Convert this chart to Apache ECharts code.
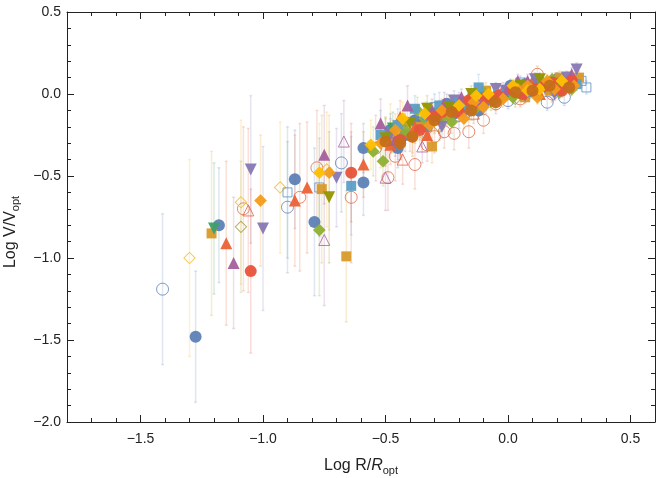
<!DOCTYPE html>
<html>
<head>
<meta charset="utf-8">
<script src="https://cdn.jsdelivr.net/npm/echarts@6/dist/echarts.min.js"></script>
<style>
  html, body { margin: 0; padding: 0; background: #fff; }
  #chart { width: 657px; height: 478px; }
</style>
</head>
<body>
<div id="chart"></div>
<script>
// each point: [log R/Ropt, log V/Vopt, error]
const blueDots = [[-1.275,-1.48,0.4],[-1.18,-0.80,0.35],[-0.87,-0.52,0.3],[-0.79,-0.78,0.45],[-0.59,-0.54,0.2],
  [-0.59,-0.33,0.15],[-0.48,-0.22,0.1],[-0.45,-0.33,0.12],[-0.42,-0.25,0.1],[-0.35,-0.18,0.08],[-0.33,-0.2,0.08],
  [-0.28,-0.14,0.1],[-0.25,-0.06,0.06],[-0.22,-0.12,0.06],[-0.15,-0.06,0.05],[-0.12,-0.1,0.05],[-0.08,-0.03,0.05],
  [-0.02,-0.01,0.04],[0.01,0.05,0.04],[0.04,0.02,0.04],[0.07,0.06,0.04],[0.1,0.03,0.04],[0.13,0.07,0.04],
  [0.16,0.04,0.04],[0.19,0.02,0.05],[0.2,0.09,0.04],[0.22,0.06,0.04],[0.27,0.07,0.04],[-0.38,-0.16,0.08]]
const amberSquares = [[-1.21,-0.85,0.5],[-0.76,-0.58,0.45],[-0.66,-0.99,0.4],[-0.31,-0.32,0.1],[-0.47,-0.26,0.1],
  [-0.42,-0.17,0.08],[-0.36,-0.2,0.08],[-0.25,-0.13,0.06],[-0.18,-0.09,0.06],[-0.12,-0.07,0.05],[-0.09,0.02,0.05],
  [-0.05,-0.02,0.05],[0.03,0.0,0.04],[0.07,-0.02,0.04],[0.11,0.05,0.04],[0.17,0.02,0.04],[0.21,0.1,0.04],
  [0.24,0.08,0.04],[0.29,0.1,0.04]]
const greenDiamonds = [[-0.77,-0.83,0.4],[-0.51,-0.41,0.15],[-0.55,-0.35,0.15],[-0.44,-0.27,0.1],[-0.42,-0.22,0.1],
  [-0.37,-0.1,0.08],[-0.34,-0.15,0.08],[-0.27,-0.15,0.07],[-0.23,-0.17,0.07],[-0.19,-0.08,0.06],[-0.14,-0.1,0.06],
  [-0.1,0.01,0.05],[-0.06,-0.04,0.05],[0.02,-0.02,0.04],[0.05,0.0,0.04],[0.08,0.04,0.04],[0.14,0.07,0.04],
  [0.18,0.09,0.04],[0.21,0.01,0.04],[0.26,0.03,0.04]]
const tealDown = [[-1.2,-0.82,0.4],[-0.47,-0.21,0.1],[-0.3,-0.12,0.07],[-0.22,-0.09,0.06],[-0.1,-0.02,0.05],
  [0.0,0.01,0.04],[0.12,0.04,0.04]]
const redTriangles = [[-1.15,-0.91,0.5],[-0.87,-0.65,0.4],[-0.82,-0.57,0.4],[-0.59,-0.43,0.2],[-0.48,-0.31,0.12],
  [-0.44,-0.14,0.1],[-0.38,-0.2,0.1],[-0.33,-0.25,0.08],[-0.29,-0.12,0.07],[-0.2,-0.07,0.06],[-0.16,-0.02,0.05],
  [-0.11,-0.05,0.05],[-0.03,0.0,0.04],[0.06,0.02,0.04],[0.1,0.08,0.04],[0.13,0.0,0.04],[0.2,0.04,0.04],
  [0.24,0.07,0.04]]
const purpleDown = [[-1.05,-0.46,0.45],[-1.0,-0.82,0.5],[-0.7,-0.51,0.3],[-0.48,-0.25,0.1],[-0.45,-0.3,0.1],
  [-0.32,-0.17,0.08],[-0.27,-0.2,0.07],[-0.22,-0.04,0.06],[-0.17,-0.1,0.06],[-0.09,-0.07,0.05],[-0.05,0.03,0.04],
  [-0.01,0.02,0.04],[0.07,-0.01,0.04],[0.11,0.09,0.04],[0.15,0.04,0.04],[0.19,0.0,0.04],[0.24,0.1,0.04],
  [0.28,0.15,0.04]]
const redRings = [[-1.08,-0.70,0.5],[-0.85,-0.63,0.45],[-0.78,-0.45,0.35],[-0.64,-0.63,0.4],[-0.54,-0.33,0.2],
  [-0.49,-0.51,0.2],[-0.46,-0.38,0.15],[-0.4,-0.25,0.1],[-0.38,-0.43,0.15],[-0.33,-0.31,0.1],[-0.30,-0.26,0.1],
  [-0.26,-0.23,0.1],[-0.22,-0.24,0.1],[-0.16,-0.23,0.1],[-0.10,-0.16,0.08],[-0.05,-0.06,0.06],[0.05,-0.03,0.05],
  [0.12,0.12,0.05],[0.18,0.0,0.05]]
const skySquares = [[-0.64,-0.56,0.3],[-0.52,-0.25,0.15],[-0.45,-0.19,0.1],[-0.38,-0.09,0.08],[-0.33,-0.13,0.08],
  [-0.28,-0.07,0.08],[-0.2,-0.05,0.06],[-0.16,-0.09,0.05],[-0.12,0.04,0.08],[-0.04,0.0,0.05],[0.02,0.02,0.04],
  [0.09,0.01,0.04],[0.14,0.06,0.04],[0.19,0.07,0.04],[0.25,0.05,0.04],[0.28,0.06,0.04]]
const yellowOpenDiamonds = [[-1.30,-1.00,0.6],[-1.09,-0.66,0.5],[-0.93,-0.57,0.4],[-0.74,-0.46,0.35],[-0.48,-0.21,0.15],
  [-0.35,-0.24,0.1],[-0.24,-0.1,0.07],[-0.07,-0.02,0.05],[0.1,0.06,0.05]]
const oliveOpenDiamonds = [[-1.09,-0.81,0.4],[-0.28,-0.2,0.08],[0.03,-0.03,0.05]]
const magentaTriangles = [[-1.12,-1.03,0.4],[-0.75,-0.37,0.3],[-0.52,-0.18,0.15],[-0.46,-0.28,0.1],[-0.41,-0.07,0.12],
  [-0.31,-0.1,0.07],[-0.26,-0.06,0.07],[-0.19,-0.02,0.05],[-0.13,-0.03,0.05],[0.0,0.03,0.04],[0.04,0.08,0.04],
  [0.08,0.08,0.04],[0.18,0.06,0.04],[0.26,0.12,0.04]]
const oliveDown = [[-0.73,-0.63,0.4],[-0.5,-0.27,0.12],[-0.4,-0.18,0.1],[-0.33,-0.09,0.08],[-0.24,-0.08,0.07],
  [-0.15,0.0,0.05],[-0.07,-0.05,0.05],[0.05,0.05,0.04],[0.13,0.09,0.04],[0.2,0.06,0.04]]
const redDots = [[-1.05,-1.08,0.5],[-0.64,-0.48,0.3],[-0.44,-0.28,0.12],[-0.36,-0.22,0.1],[-0.31,-0.14,0.07],
  [-0.27,-0.11,0.07],[-0.2,-0.11,0.06],[-0.16,-0.04,0.06],[-0.09,-0.02,0.05],[-0.04,-0.01,0.05],[0.02,0.03,0.04],
  [0.06,0.0,0.04],[0.11,0.03,0.04],[0.15,0.05,0.04],[0.18,0.07,0.04],[0.22,0.02,0.04],[0.26,0.08,0.04]]
const blueRings = [[-1.41,-1.19,0.46],[-0.90,-0.69,0.4],[-0.68,-0.42,0.3],[-0.2,-0.13,0.08],[0.0,-0.04,0.05],
  [0.16,-0.05,0.05],[0.23,-0.02,0.05]]
const redOpenTriangles = [[-1.06,-0.71,0.5],[-0.43,-0.40,0.15],[-0.14,-0.12,0.06]]
const magentaOpenTriangles = [[-0.75,-0.89,0.4],[-0.67,-0.29,0.25],[-0.50,-0.51,0.2],[-0.35,-0.32,0.1],
  [-0.02,0.02,0.05],[0.2,0.09,0.04]]
const orangeDiamonds = [[-1.01,-0.65,0.4],[-0.73,-0.48,0.35],[-0.52,-0.3,0.15],[-0.46,-0.22,0.1],[-0.39,-0.26,0.1],
  [-0.32,-0.19,0.08],[-0.27,-0.1,0.07],[-0.18,-0.15,0.06],[-0.14,-0.05,0.05],[-0.1,-0.08,0.05],[-0.02,-0.03,0.05],
  [0.04,0.03,0.04],[0.08,0.05,0.04],[0.12,-0.02,0.04],[0.16,0.08,0.04],[0.19,0.03,0.04],[0.27,0.05,0.04]]
const goldDiamonds = [[-0.77,-0.48,0.3],[-0.56,-0.31,0.15],[-0.43,-0.15,0.1],[-0.34,-0.12,0.07],[-0.2,-0.07,0.06],
  [-0.13,-0.01,0.05],[-0.08,0.0,0.05],[0.02,0.05,0.04],[0.08,0.02,0.04],[0.13,0.03,0.04],[0.22,0.08,0.04]]
const openSquares = [[-0.90,-0.60,0.4],[-0.77,-0.57,0.3],[-0.30,-0.08,0.08],[-0.12,-0.06,0.05],[0.05,0.07,0.04],
  [0.3,0.08,0.04],[0.32,0.04,0.04]]
const brownDots = [[-0.5,-0.29,0.15],[-0.44,-0.3,0.1],[-0.39,-0.26,0.12],[-0.3,-0.16,0.08],[-0.23,-0.11,0.07],
  [-0.15,-0.1,0.06],[-0.05,-0.05,0.05],[0.03,0.01,0.04],[0.1,0.02,0.04],[0.17,0.05,0.04],[0.25,0.04,0.04]]

const xMajor = [-1.5, -1.0, -0.5, 0.0, 0.5]
const xMinor = [-1.7, -1.6, -1.4, -1.3, -1.2, -1.1, -0.9, -0.8, -0.7, -0.6, -0.4, -0.3, -0.2, -0.1,
  0.1, 0.2, 0.3, 0.4, 0.6]

const groups = [
  { data: redRings, color: '#DE6B48', symbol: 'circle', size: 12, open: true },
  { data: blueRings, color: '#5E81B5', symbol: 'circle', size: 12, open: true },
  { data: yellowOpenDiamonds, color: '#F0B92E', symbol: 'rect', size: 8, rot: 45, open: true },
  { data: oliveOpenDiamonds, color: '#A3A33A', symbol: 'rect', size: 8, rot: 45, open: true },
  { data: redOpenTriangles, color: '#E0654A', symbol: 'triangle', size: 11, open: true },
  { data: magentaOpenTriangles, color: '#A5609D', symbol: 'triangle', size: 11, open: true },
  { data: openSquares, color: '#5A8EC0', symbol: 'rect', size: 9, open: true },
  { data: blueDots, color: '#5E81B5', symbol: 'circle', size: 12 },
  { data: amberSquares, color: '#D89A2A', symbol: 'rect', size: 10 },
  { data: greenDiamonds, color: '#8FB032', symbol: 'rect', size: 9, rot: 45 },
  { data: tealDown, color: '#3E9F6A', symbol: 'triangle', size: 12, rot: 180 },
  { data: redTriangles, color: '#EB6235', symbol: 'triangle', size: 12 },
  { data: purpleDown, color: '#8778B3', symbol: 'triangle', size: 12, rot: 180 },
  { data: skySquares, color: '#5D9EC7', symbol: 'rect', size: 10 },
  { data: magentaTriangles, color: '#A5609D', symbol: 'triangle', size: 12 },
  { data: oliveDown, color: '#929600', symbol: 'triangle', size: 12, rot: 180 },
  { data: redDots, color: '#E8533A', symbol: 'circle', size: 12 },
  { data: orangeDiamonds, color: '#F39C1A', symbol: 'rect', size: 9, rot: 45 },
  { data: goldDiamonds, color: '#FFBF00', symbol: 'rect', size: 9, rot: 45 },
  { data: brownDots, color: '#C56E1A', symbol: 'circle', size: 12 }
]

function fade(hex, a) {
  const n = parseInt(hex.slice(1), 16)
  return 'rgba(' + (n >> 16) + ',' + ((n >> 8) & 255) + ',' + (n & 255) + ',' + a + ')'
}

const minus = v => String(v.toFixed(1)).replace('-', '\u2212')

const series = []
// error bars first so the markers sit on top
groups.forEach(g => {
  series.push({
    type: 'custom',
    data: g.data,
    clip: true,
    z: 1,
    silent: true,
    renderItem: (params, api) => {
      const x = api.value(0), y = api.value(1), e = api.value(2)
      const top = api.coord([x, y + e])
      const bot = api.coord([x, y - e])
      const st = { stroke: fade(g.color, 0.2), lineWidth: 1.5 }
      return {
        type: 'group',
        children: [
          { type: 'line', shape: { x1: top[0], y1: top[1], x2: bot[0], y2: bot[1] }, style: st },
          { type: 'line', shape: { x1: top[0] - 1.5, y1: top[1], x2: top[0] + 1.5, y2: top[1] }, style: st },
          { type: 'line', shape: { x1: bot[0] - 1.5, y1: bot[1], x2: bot[0] + 1.5, y2: bot[1] }, style: st }
        ]
      }
    }
  })
})
groups.forEach(g => {
  series.push({
    type: 'scatter',
    data: g.data.map(p => [p[0], p[1]]),
    symbol: g.symbol,
    symbolSize: g.size,
    symbolRotate: g.rot || 0,
    z: 2,
    silent: true,
    itemStyle: g.open
      ? { color: 'rgba(255,255,255,0)', borderColor: g.color, borderWidth: 1 }
      : { color: g.color, opacity: 0.95 }
  })
})

const frame = { lineStyle: { color: '#222', width: 1 } }
const tickFont = { fontFamily: 'Liberation Sans', fontSize: 14, color: '#222' }

const chart = echarts.init(document.getElementById('chart'))
chart.setOption({
  animation: false,
  grid: { left: 67, right: 2, top: 12, bottom: 56, outerBoundsMode: 'none', containLabel: false },
  xAxis: [
    {
      type: 'value', min: -1.8, max: 0.6, position: 'bottom',
      axisLine: { show: true, onZero: false, ...frame }, splitLine: { show: false },
      axisTick: { show: true, inside: true, length: 7, customValues: xMajor, lineStyle: { color: '#222' } },
      axisLabel: { ...tickFont, margin: 10, customValues: xMajor, formatter: minus },
      name: '{a|Log R/}{i|R}{s|opt}', nameLocation: 'middle', nameGap: 34,
      nameTextStyle: {
        rich: {
          a: { fontFamily: 'Liberation Sans', fontSize: 16, color: '#222' },
          i: { fontFamily: 'Liberation Sans', fontSize: 16, fontStyle: 'italic', color: '#222' },
          s: { fontFamily: 'Liberation Sans', fontSize: 11, color: '#222', padding: [9, 0, 0, 0] }
        }
      }
    },
    {
      type: 'value', min: -1.8, max: 0.6, position: 'bottom',
      axisLine: { show: false, onZero: false }, splitLine: { show: false },
      axisTick: { show: true, inside: true, length: 4, customValues: xMinor, lineStyle: { color: '#222' } },
      axisLabel: { show: false }
    },
    {
      type: 'value', min: -1.8, max: 0.6, position: 'top',
      axisLine: { show: true, onZero: false, ...frame }, splitLine: { show: false },
      axisTick: { show: true, inside: true, length: 7, customValues: xMajor, lineStyle: { color: '#222' } },
      axisLabel: { show: false }
    },
    {
      type: 'value', min: -1.8, max: 0.6, position: 'top',
      axisLine: { show: false, onZero: false }, splitLine: { show: false },
      axisTick: { show: true, inside: true, length: 4, customValues: xMinor, lineStyle: { color: '#222' } },
      axisLabel: { show: false }
    }
  ],
  yAxis: [
    {
      type: 'value', min: -2, max: 0.5, interval: 0.5, position: 'left',
      axisLine: { show: true, onZero: false, ...frame }, splitLine: { show: false },
      axisTick: { show: true, inside: true, length: 7, lineStyle: { color: '#222' } },
      minorTick: { show: true, splitNumber: 5, length: 4, lineStyle: { color: '#222' } },
      axisLabel: { ...tickFont, margin: 6, formatter: minus },
      name: '{a|Log V/V}{s|opt}', nameLocation: 'middle', nameGap: 46, nameRotate: 90,
      nameTextStyle: {
        padding: [0, 30, 0, 0],
        rich: {
          a: { fontFamily: 'Liberation Sans', fontSize: 16, color: '#222' },
          s: { fontFamily: 'Liberation Sans', fontSize: 11, color: '#222', padding: [9, 0, 0, 0] }
        }
      }
    },
    {
      type: 'value', min: -2, max: 0.5, interval: 0.5, position: 'right',
      axisLine: { show: true, onZero: false, ...frame }, splitLine: { show: false },
      axisTick: { show: true, inside: true, length: 7, lineStyle: { color: '#222' } },
      minorTick: { show: true, splitNumber: 5, length: 4, lineStyle: { color: '#222' } },
      axisLabel: { show: false }
    }
  ],
  series: series
})
</script>
</body>
</html>
